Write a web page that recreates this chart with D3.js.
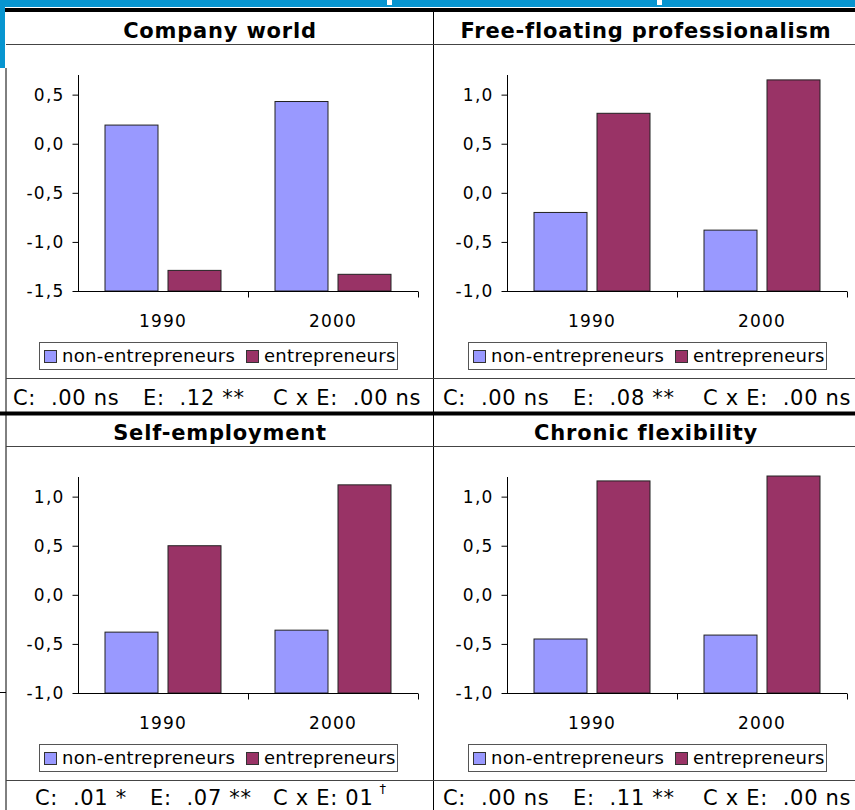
<!DOCTYPE html>
<html>
<head>
<meta charset="utf-8">
<script src="https://cdn.jsdelivr.net/npm/d3@7"></script>
<style>
  html, body { margin: 0; padding: 0; background: #fff; }
  svg { display: block; font-family: "DejaVu Sans", Verdana, sans-serif; }
</style>
</head>
<body>
<svg id="chart" width="855" height="810"></svg>
<script>
// ---- data ----
const years = ["1990", "2000"];
const seriesNames = ["non-entrepreneurs", "entrepreneurs"];
const seriesColors = ["#9999ff", "#993366"];
const panelTitles = ["Company world", "Free-floating professionalism", "Self-employment", "Chronic flexibility"];
const nonEntrepreneurs = [[0.19, 0.43], [-0.20, -0.38], [-0.38, -0.36], [-0.45, -0.41]];
const entrepreneurs = [[-1.29, -1.33], [0.81, 1.15], [0.50, 1.12], [1.16, 1.21]];
const yDomains = [[-1.5, 0.7], [-1.0, 1.2], [-1.0, 1.2], [-1.0, 1.2]];
const yTicks = [[-1.5, -1.0, -0.5, 0.0, 0.5], [-1.0, -0.5, 0.0, 0.5, 1.0], [-1.0, -0.5, 0.0, 0.5, 1.0], [-1.0, -0.5, 0.0, 0.5, 1.0]];
const statsC = ["C:  .00 ns", "C:  .00 ns", "C:  .01 *", "C:  .00 ns"];
const statsE = ["E:  .12 **", "E:  .08 **", "E:  .07 **", "E:  .11 **"];
const statsCE = ["C x E:  .00 ns", "C x E:  .00 ns", "C x E: 01", "C x E:  .00 ns"];
const statsCEMark = ["", "", "\u2020", ""];

// ---- layout ----
const svg = d3.select("#chart");
const W = 855, H = 810;
const rowY = [12, 414];         // top of each table row
const fmt = d3.formatLocale({decimal: ",", thousands: ".", grouping: [3], currency: ["", ""], minus: "-"}).format(".1f");

// blue header strip and table frame
svg.append("rect").attr("x", 0).attr("y", 0).attr("width", W).attr("height", 7).attr("fill", "#0795d0");
svg.append("rect").attr("x", 0).attr("y", 0).attr("width", 5).attr("height", 68).attr("fill", "#0795d0");
svg.append("rect").attr("x", 387).attr("y", 0).attr("width", 5).attr("height", 5).attr("fill", "#fff");
svg.append("rect").attr("x", 657).attr("y", 0).attr("width", 5).attr("height", 5).attr("fill", "#fff");
svg.append("rect").attr("x", 5).attr("y", 8).attr("width", W - 5).attr("height", 4).attr("fill", "#000");
svg.append("rect").attr("x", 0).attr("y", 411.5).attr("width", W).attr("height", 4).attr("fill", "#000");
svg.append("line").attr("x1", 6).attr("x2", 6).attr("y1", 68).attr("y2", H).attr("stroke", "#000");
svg.append("line").attr("x1", 0).attr("x2", 6).attr("y1", 692.5).attr("y2", 692.5).attr("stroke", "#000");
svg.append("line").attr("x1", 433.5).attr("x2", 433.5).attr("y1", 12).attr("y2", H).attr("stroke", "#000");

panelTitles.forEach((title, i) => {
  const col = i % 2, row = Math.floor(i / 2);
  const left = col === 0 ? 0 : 430;
  const top = rowY[row];
  const cellCenter = col === 0 ? 220 : 646;
  const g = svg.append("g");

  // title row
  g.append("text").attr("x", cellCenter).attr("y", top + 26)
    .attr("text-anchor", "middle").attr("font-size", 21).attr("font-weight", "bold")
    .attr("letter-spacing", 0.8).text(title);
  g.append("line").attr("x1", col === 0 ? 6 : 433).attr("x2", col === 0 ? 433 : W)
    .attr("y1", top + 32.5).attr("y2", top + 32.5).attr("stroke", "#444");

  // scales
  const axisX = left + 78 - (col === 0 ? 0 : 1);
  const x0 = d3.scaleBand().domain(years).range([axisX, axisX + 340]).paddingInner(0).paddingOuter(0);
  const x1 = d3.scaleBand().domain(seriesNames).range([27, 143]).paddingInner(10 / 63).paddingOuter(0);
  const y = d3.scaleLinear().domain(yDomains[i]).range([top + 279, top + 63]);

  // bars
  const values = [nonEntrepreneurs[i], entrepreneurs[i]];
  years.forEach((yr, yi) => {
    seriesNames.forEach((s, si) => {
      const v = values[si][yi];
      g.append("rect")
        .attr("x", x0(yr) + x1(s))
        .attr("y", y(v))
        .attr("width", x1.bandwidth())
        .attr("height", y(yDomains[i][0]) - y(v))
        .attr("fill", seriesColors[si])
        .attr("stroke", "#222").attr("stroke-width", 1);
    });
  });

  // value axis
  const yAxis = d3.axisLeft(y).tickValues(yTicks[i]).tickFormat(fmt).tickSize(6).tickPadding(8);
  const ya = g.append("g").attr("transform", `translate(${axisX + 0.5},0)`).call(yAxis);
  ya.select(".domain").attr("d", `M0,${y(yDomains[i][1])}V${y(yDomains[i][0])}`);
  ya.selectAll("text").attr("font-size", 17).attr("letter-spacing", 1.2)
    .attr("font-family", "DejaVu Sans, Verdana, sans-serif").attr("fill", "#000");

  // category axis
  const xAxis = d3.axisBottom(x0).tickSize(0).tickPadding(23);
  const xa = g.append("g").attr("transform", `translate(0,${y(yDomains[i][0]) + 0.5})`).call(xAxis);
  xa.select(".domain").attr("d", `M${axisX},0H${axisX + 340}`);
  xa.selectAll("text").attr("font-size", 17).attr("letter-spacing", 1.2)
    .attr("font-family", "DejaVu Sans, Verdana, sans-serif").attr("fill", "#000");
  // dividing tick marks between categories
  const edges = [axisX + 170, axisX + 340];
  xa.selectAll("line.sep").data(edges).join("line").attr("class", "sep")
    .attr("x1", d => d + 0.5).attr("x2", d => d + 0.5).attr("y1", 0).attr("y2", 6).attr("stroke", "#000");

  // legend
  const lx = left + 39 - (col === 0 ? 0 : 1), ly = top + 330;
  const lg = g.append("g").attr("transform", `translate(${lx},${ly})`);
  lg.append("rect").attr("x", 0.5).attr("y", 0.5).attr("width", 358).attr("height", 27)
    .attr("fill", "#fff").attr("stroke", "#555");
  const itemX = [5, 207];
  seriesNames.forEach((s, si) => {
    lg.append("rect").attr("x", itemX[si] + 0.5).attr("y", 8.5).attr("width", 12).attr("height", 12)
      .attr("fill", seriesColors[si]).attr("stroke", "#333");
    lg.append("text").attr("x", itemX[si] + 18).attr("y", 20).attr("font-size", 18)
      .attr("letter-spacing", 0.3).text(s);
  });

  // statistics row
  g.append("line").attr("x1", col === 0 ? 6 : 433).attr("x2", col === 0 ? 433 : W)
    .attr("y1", top + 366.5).attr("y2", top + 366.5).attr("stroke", "#444");
  const sy = top + 393 - row * 2;
  const sx = [row === 1 && col === 0 ? 35 : 13, row === 1 && col === 0 ? 150 : 143, 273];
  [statsC[i], statsE[i], statsCE[i]].forEach((t, k) => {
    const tx = g.append("text").attr("x", left + sx[k]).attr("y", sy)
      .attr("font-size", 21).attr("letter-spacing", 0.7)
      .attr("xml:space", "preserve").style("white-space", "pre").text(t);
    if (k === 2 && statsCEMark[i]) {
      tx.append("tspan").attr("dx", 6).attr("dy", -12).attr("font-size", 13).text(statsCEMark[i]);
    }
  });
});
</script>
</body>
</html>
